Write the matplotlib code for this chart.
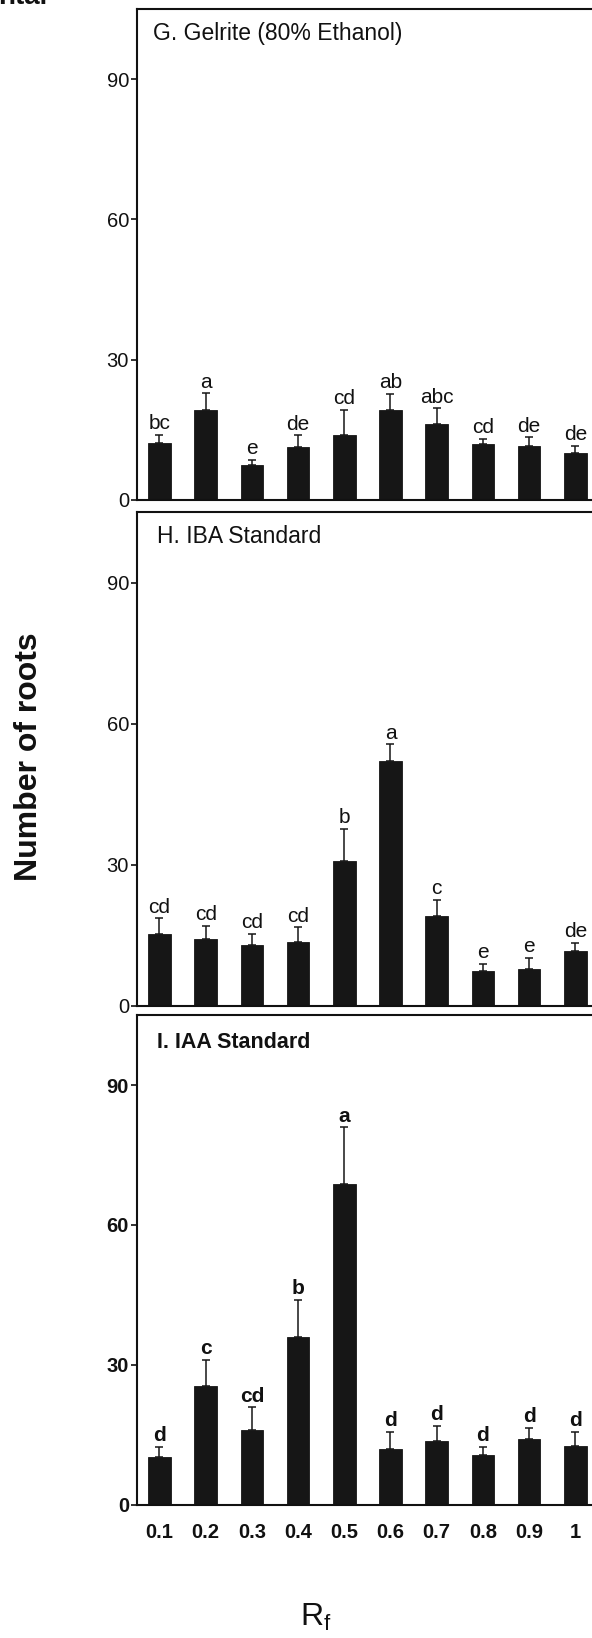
import matplotlib.pyplot as plt
import numpy as np

plt.rcParams['font.family'] = ['Liberation Sans', 'DejaVu Sans']

# Rf fractions along the chromatogram
rf_labels = ['0.1', '0.2', '0.3', '0.4', '0.5', '0.6', '0.7', '0.8', '0.9', '1']

# G. Gelrite (80% Ethanol)
gelrite_mean = [12.2, 19.3, 7.4, 11.4, 13.9, 19.2, 16.2, 11.9, 11.5, 10.1]
gelrite_se = [1.7, 3.5, 1.2, 2.4, 5.3, 3.4, 3.4, 1.2, 1.9, 1.5]
gelrite_letters = ['bc', 'a', 'e', 'de', 'cd', 'ab', 'abc', 'cd', 'de', 'de']

# H. IBA Standard
iba_mean = [15.3, 14.3, 13.0, 13.6, 30.8, 52.0, 19.1, 7.5, 7.8, 11.7]
iba_se = [3.3, 2.8, 2.3, 3.1, 6.8, 3.6, 3.4, 1.5, 2.4, 1.7]
iba_letters = ['cd', 'cd', 'cd', 'cd', 'b', 'a', 'c', 'e', 'e', 'de']

# I. IAA Standard
iaa_mean = [10.3, 25.4, 16.0, 35.9, 68.7, 12.0, 13.8, 10.7, 14.1, 12.6]
iaa_se = [2.2, 5.7, 4.9, 8.0, 12.2, 3.7, 3.1, 1.8, 2.4, 3.1]
iaa_letters = ['d', 'c', 'cd', 'b', 'a', 'd', 'd', 'd', 'd', 'd']

panel_titles = ['G. Gelrite (80% Ethanol)', 'H. IBA Standard', 'I. IAA Standard']
y_ticks = [0, 30, 60, 90]

BAR_COLOR = '#161616'


def plot_panel(ax, mean, se, letters, title, title_offset, bold=False, show_x=False):
    ''' one bar panel with upper error bars and significance letters '''
    x = np.arange(1, len(mean) + 1)
    mean = np.asarray(mean)
    se = np.asarray(se)
    weight = 'bold' if bold else 'normal'

    ax.bar(x, mean, width=0.49, color=BAR_COLOR, edgecolor=BAR_COLOR,
           linewidth=0.6, zorder=2)
    # only the upper half of the error bar is drawn
    ax.errorbar(x, mean, yerr=[np.zeros_like(se), se], fmt='none',
                ecolor=BAR_COLOR, elinewidth=1.1, capsize=2.6, capthick=1.1,
                zorder=3)

    for xi, top, letter in zip(x, mean + se, letters):
        ax.annotate(letter, xy=(xi, top), xytext=(0, 4.2),
                    textcoords='offset points', ha='center', va='baseline',
                    fontsize=15, fontweight=weight, color='#111111',
                    annotation_clip=False)

    ax.annotate(title, xy=(0, 1), xycoords='axes fraction',
                xytext=title_offset, textcoords='offset points',
                ha='left', va='baseline', fontsize=16.5 if not bold else 15.5,
                fontweight=weight, color='#111111')

    ax.set_xlim(0.507, 10.6)
    ax.set_ylim(0, 105)
    ax.set_yticks(y_ticks)
    ax.set_yticklabels([str(t) for t in y_ticks], fontweight=weight)
    ax.tick_params(axis='y', direction='out', length=4, width=1.2, pad=1.5,
                   labelsize=14.5, colors='#111111')

    ax.set_xticks(x)
    if show_x:
        ax.set_xticklabels(rf_labels, fontweight='bold', fontsize=14.5)
        ax.tick_params(axis='x', length=0, pad=13, colors='#111111')
    else:
        ax.tick_params(axis='x', length=0, labelbottom=False)

    for side in ['left', 'top', 'bottom']:
        ax.spines[side].set_linewidth(1.5)
        ax.spines[side].set_color('#111111')
    ax.spines['right'].set_visible(False)


fig = plt.figure(figsize=(5.92, 16.38), dpi=100)

# axes boxes run off the right edge of the page, as in the printed figure
ax_g = fig.add_axes([0.2309, 0.69475, 0.7877, 0.29976])
ax_h = fig.add_axes([0.2309, 0.38584, 0.7877, 0.30159])
ax_i = fig.add_axes([0.2309, 0.08120, 0.7877, 0.29914])

plot_panel(ax_g, gelrite_mean, gelrite_se, gelrite_letters, panel_titles[0], (12, -22.5))
plot_panel(ax_h, iba_mean, iba_se, iba_letters, panel_titles[1], (14.5, -22.5))
plot_panel(ax_i, iaa_mean, iaa_se, iaa_letters, panel_titles[2], (14.5, -23.8),
           bold=True, show_x=True)

# shared axis titles
fig.text(29 / 592, 0.538, 'Number of roots', rotation=90, ha='center', va='center',
         fontsize=23, fontweight='bold', color='#111111')
fig.text(0.534, 0.0128, r'R$_\mathregular{f}$', ha='center', va='center',
         fontsize=23, color='#111111')

# tail of the caption line above the figure, cut by the page edge
fig.text(-0.004, 1 - 4 / 1638, 'ntal', ha='left', va='baseline',
         fontsize=20, fontweight='bold', color='#111111')

fig.savefig('out.png', dpi=100)
